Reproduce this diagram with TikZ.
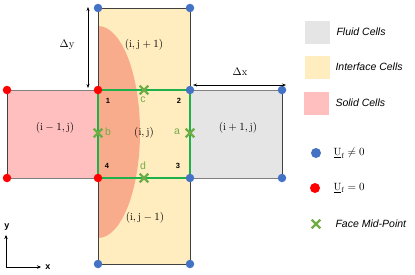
\documentclass[tikz,border=0pt]{standalone}
\usepackage{fontspec}
\setsansfont{Liberation Sans}
\usetikzlibrary{arrows.meta,shapes.misc}
\definecolor{fluidc}{HTML}{E5E5E5}
\definecolor{ifacec}{HTML}{FFEDC0}
\definecolor{solidc}{HTML}{FFBFBF}
\definecolor{blobc}{HTML}{F9AC8C}
\definecolor{bdot}{HTML}{4472C4}
\definecolor{rdot}{HTML}{FF0000}
\definecolor{gline}{HTML}{1DB14B}
\definecolor{gmark}{HTML}{70AD47}
\definecolor{edgec}{HTML}{404040}
\tikzset{
  cellborder/.style={draw=edgec,line width=0.9pt},
  bluedot/.style={circle,fill=bdot,inner sep=0pt,minimum size=8.5pt},
  reddot/.style={circle,fill=rdot,inner sep=0pt,minimum size=8.5pt},
  midmark/.style={cross out,draw=gmark,line width=2.2pt,inner sep=0pt,minimum size=6.5pt},
  cornernum/.style={font=\sffamily\bfseries\fontsize{7.5}{8}\selectfont},
  facelbl/.style={text=gmark,font=\sffamily\fontsize{10.5}{11}\selectfont},
  celllbl/.style={font=\fontsize{10.5}{12}\selectfont},
  legtext/.style={anchor=west,font=\sffamily\itshape\fontsize{10.5}{12}\selectfont},
  legbox/.style={minimum width=25pt,minimum height=23pt,inner sep=0pt},
  dimarrow/.style={{Stealth[length=4pt,width=3pt]}-{Stealth[length=4pt,width=3pt]},line width=0.6pt},
}
\begin{document}
\begin{tikzpicture}[x=1pt,y=-1pt]
\useasboundingbox (0,0) rectangle (415,274);
% cell fills
\fill[ifacec] (98,8) rectangle (190,90);
\fill[ifacec] (98,90) rectangle (190,178);
\fill[ifacec] (98,178) rectangle (190,264);
\fill[solidc] (7,90) rectangle (98,178);
\fill[fluidc] (190,90) rectangle (282,178);
% solid blob
\begin{scope}
\clip (98,0) rectangle (190,274);
\fill[blobc] (98,132) ellipse [x radius=42, y radius=106];
\end{scope}
% borders
\draw[cellborder] (98,90) -- (98,8) -- (190,8) -- (190,264) -- (98,264) -- (98,178);
\draw[cellborder] (98,178) -- (98,90);
\draw[draw=gray,line width=0.9pt] (7,90) -- (98,90) (7,178) -- (98,178);
\draw[draw=gray,line width=0.9pt] (190,90) -- (282,90) (190,178) -- (282,178);
\draw[cellborder] (7,90) -- (7,178);
\draw[cellborder] (282,90) -- (282,178);
% central cell outline
\draw[gline,line width=1.5pt] (98,90) rectangle (190,178);
% labels
\node[celllbl] (lij1) at (144,45) {$(\mathrm{i},\mathrm{j}+1)$};
\node[celllbl] (lij) at (144,133) {$(\mathrm{i},\mathrm{j})$};
\node[celllbl] (lim) at (55,128) {$(\mathrm{i}-1,\mathrm{j})$};
\node[celllbl] (lip) at (238,128) {$(\mathrm{i}+1,\mathrm{j})$};
\node[celllbl] (ljm) at (145,218) {$(\mathrm{i},\mathrm{j}-1)$};
% corner numbers
\node[cornernum] (n1) at (108,101) {1};
\node[cornernum] (n2) at (179,101) {2};
\node[cornernum] (n3) at (178,166) {3};
\node[cornernum] (n4) at (107,166) {4};
% face mid-points
\node[midmark] (fc) at (144,90) {};
\node[midmark] (fa) at (190,133) {};
\node[midmark] (fb) at (98,133) {};
\node[midmark] (fd) at (144,178) {};
\node[facelbl] (lc) at (143,100) {c};
\node[facelbl] (la) at (177,132) {a};
\node[facelbl] (lb) at (108,132) {b};
\node[facelbl] (ld) at (143,166) {d};
% dots
\node[bluedot] (p1) at (98,8) {};
\node[bluedot] (p2) at (190,8) {};
\node[bluedot] (p3) at (190,90) {};
\node[bluedot] (p4) at (282,90) {};
\node[bluedot] (p5) at (190,178) {};
\node[bluedot] (p6) at (282,178) {};
\node[bluedot] (p7) at (98,264) {};
\node[bluedot] (p8) at (190,264) {};
\node[reddot] (r1) at (7,90) {};
\node[reddot] (r2) at (98,90) {};
\node[reddot] (r3) at (7,178) {};
\node[reddot] (r4) at (98,178) {};
% dimension arrows
\coordinate (dyt) at (88,7);
\coordinate (dyb) at (88,88);
\draw[dimarrow] (dyt) -- (dyb);
\node[celllbl] (dy) at (67,45) {$\Delta\mathrm{y}$};
\coordinate (dxl) at (193,85);
\coordinate (dxr) at (286,85);
\draw[dimarrow] (dxl) -- (dxr);
\node[celllbl] (dx) at (240,72) {$\Delta\mathrm{x}$};
% axes
\coordinate (ax0) at (6,267);
\coordinate (axy) at (6,235);
\coordinate (axx) at (41,267);
\draw[-{Stealth[length=4pt,width=3.5pt]},line width=0.8pt] (ax0) -- (axy);
\draw[-{Stealth[length=4pt,width=3.5pt]},line width=0.8pt] (ax0) -- (axx);
\node[font=\sffamily\bfseries\fontsize{9}{10}\selectfont] (ylbl) at (7,227) {y};
\node[font=\sffamily\bfseries\fontsize{9}{10}\selectfont] (xlbl) at (48,267) {x};
% legend
\node[legbox,fill=fluidc] (lg1) at (317,32) {};
\node[legbox,fill=ifacec] (lg2) at (317,67) {};
\node[legbox,fill=solidc] (lg3) at (316,103) {};
\node[legtext] (lt1) at (333,32) {Fluid Cells};
\node[legtext] (lt2) at (332,67) {Interface Cells};
\node[legtext] (lt3) at (332,103) {Solid Cells};
\node[bluedot,minimum size=10pt] (lgb) at (316,153) {};
\node[reddot,minimum size=10pt] (lgr) at (315,188) {};
\node[midmark] (lgx) at (316,224) {};
\node[anchor=west,celllbl] (lbt) at (330,153) {$\underline{\mathrm{U}}_{\mathrm{f}}\neq 0$};
\node[anchor=west,celllbl] (lrt) at (330,188) {$\underline{\mathrm{U}}_{\mathrm{f}}= 0$};
\node[legtext] (lxt) at (332,224) {Face Mid-Point};
\end{tikzpicture}
\end{document}
